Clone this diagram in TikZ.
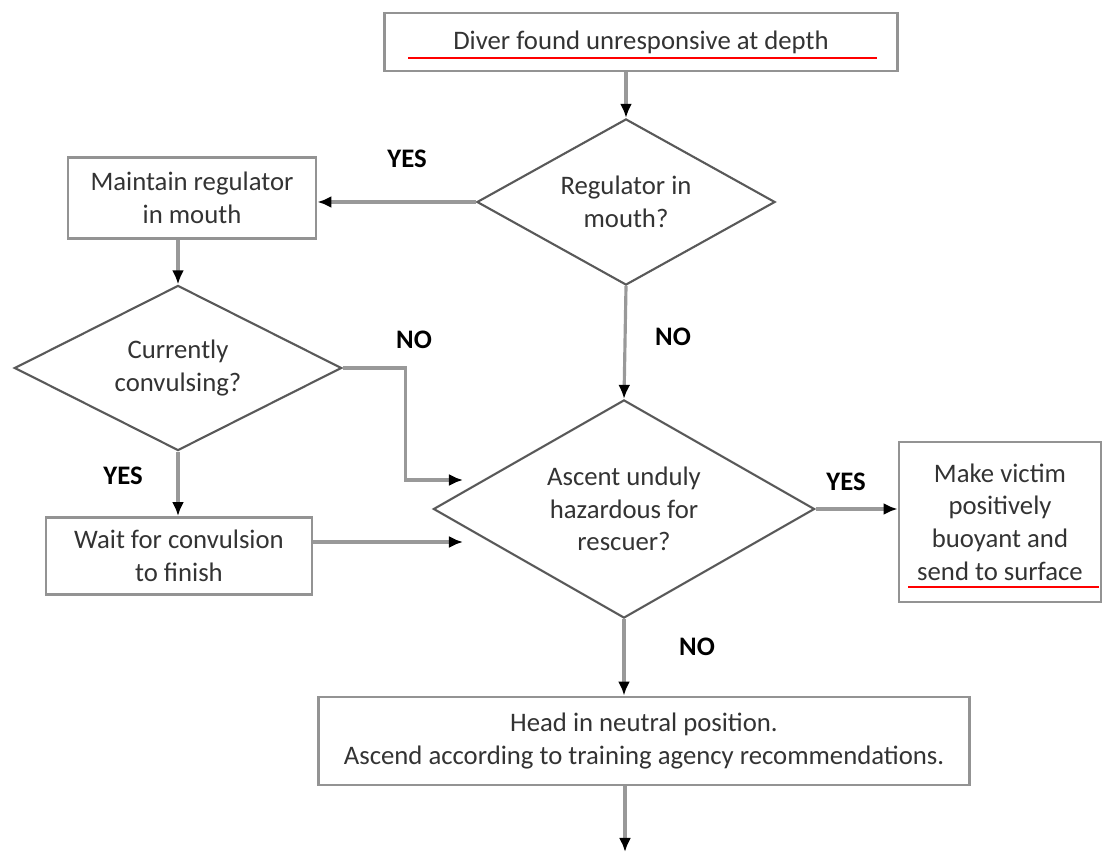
\documentclass[tikz,border=0pt]{standalone}
\usepackage{fontspec}
\setmainfont{Carlito}
\usetikzlibrary{shapes.geometric,arrows.meta}

\begin{document}
\begin{tikzpicture}[x=0.01cm,y=-0.01cm,>={Latex[length=1.4mm,width=1.2mm,color=black]},
        every node/.style={font=\fontsize{7.6}{9.3}\selectfont,text=black!80},
        box/.style={draw=gray!85,line width=0.8pt,align=center,inner sep=0pt},
        dia/.style={diamond,aspect=1.75,draw=black!65,line width=0.6pt,align=center,inner sep=0pt},
        conn/.style={draw=gray!80,line width=0.9pt},
        lbl/.style={font=\fontsize{7.6}{9.3}\selectfont\bfseries,text=black}]
        \useasboundingbox (0,0) rectangle (1103,852);
        % boxes and decisions
        \node[box,minimum width=5.13cm,minimum height=0.58cm] (found) at (641,42) {Diver found unresponsive at depth};
        \node[dia,minimum width=2.98cm,minimum height=1.66cm] (reg) at (626,202) {Regulator in\\mouth?};
        \node[box,minimum width=2.48cm,minimum height=0.81cm] (maint) at (192,198) {Maintain regulator\\in mouth};
        \node[dia,minimum width=3.27cm,minimum height=1.65cm] (conv) at (178,368) {Currently\\convulsing?};
        \node[dia,minimum width=3.81cm,minimum height=2.18cm] (haz) at (624,509) {Ascent unduly\\hazardous for\\rescuer?};
        \node[box,minimum width=2.02cm,minimum height=1.6cm] (buoy) at (1000,522) {Make victim\\positively\\buoyant and\\send to surface};
        \node[box,minimum width=2.66cm,minimum height=0.77cm] (wait) at (179,556) {Wait for convulsion\\to finish};
        \node[box,minimum width=6.5cm,minimum height=0.88cm] (head) at (644,741) {Head in neutral position.\\Ascend according to training agency recommendations.};
        % labels
        \node[lbl] (yesreg) at (407,159) {YES};
        \node[lbl] (noreg) at (673,337) {NO};
        \node[lbl] (noconv) at (414,340) {NO};
        \node[lbl] (yesconv) at (123,476) {YES};
        \node[lbl] (yeshaz) at (846,482) {YES};
        \node[lbl] (nohaz) at (697,647) {NO};
        % free ends
        \coordinate (noin) at (463,480);
        \coordinate (waitin) at (463,542);
        \coordinate (out) at (625,852);
        % connectors
        \draw[conn,->] (reg.north |- found.south) -- (reg.north);
        \draw[conn,->] (reg.west) -- (reg.west -| maint.east);
        \draw[conn,->] (conv.north |- maint.south) -- (conv.north);
        \draw[conn,->] (conv.east) -- ++(63,0) |- (noin);
        \draw[conn,->] (conv.south) -- (conv.south |- wait.north);
        \draw[conn,->] (wait.east |- waitin) -- (waitin);
        \draw[conn,->] (reg.south) -- (haz.north);
        \draw[conn,->] (haz.east) -- (haz.east -| buoy.west);
        \draw[conn,->] (haz.south) -- (haz.south |- head.north);
        \draw[conn,->] (out |- head.south) -- (out);
        % red underlines
        \draw[red,line width=0.8pt] (408,58) -- (877,58);
        \draw[red,line width=0.8pt] (908,587) -- (1099,587);
\end{tikzpicture}
\end{document}
